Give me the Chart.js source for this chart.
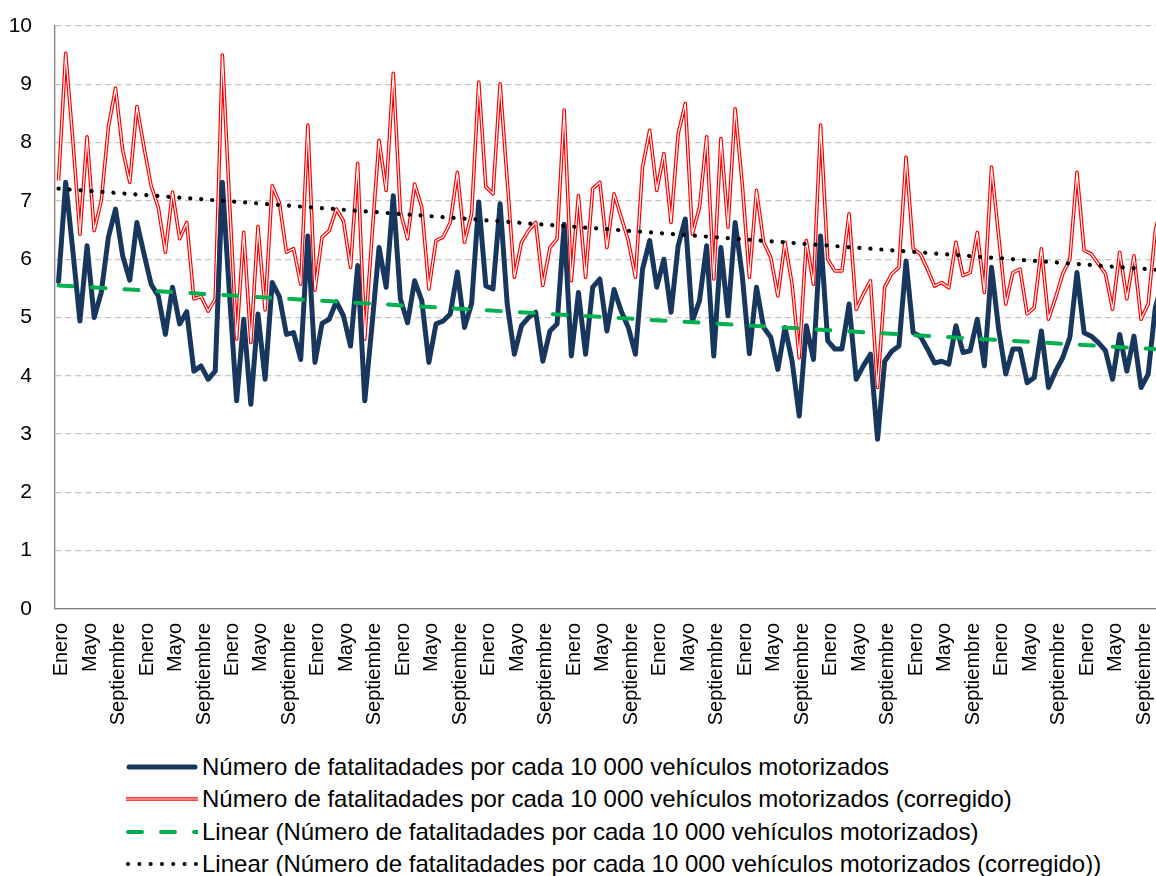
<!DOCTYPE html>
<html>
<head>
<meta charset="utf-8">
<script src="https://cdn.jsdelivr.net/npm/chart.js@4"></script>
<style>
  html, body { margin: 0; padding: 0; background: #fff; overflow: hidden; }
  #wrap { position: relative; width: 1156px; height: 876px; overflow: hidden; }
  #grafico { position: absolute; left: 0; top: 0; }
  #leyenda { position: absolute; left: 126px; top: 751px; font-family: "Liberation Sans", Arial, sans-serif; font-size: 24px; color: #000; }
  .fila { height: 32.3px; line-height: 32.3px; white-space: nowrap; display: flex; align-items: center; }
  .fila svg { width: 72px; height: 12px; margin-right: 4px; flex: none; }
</style>
</head>
<body>
<div id="wrap">
  <canvas id="grafico" width="1166" height="740"></canvas>
  <div id="leyenda"></div>
</div>
<script>
const meses = ["Enero", "Febrero", "Marzo", "Abril", "Mayo", "Junio", "Julio", "Agosto", "Septiembre", "Octubre", "Noviembre", "Diciembre"];
const años = 13;

// una etiqueta por mes, 13 años
const categorias = [];
for (let a = 0; a < años; a++) {
  meses.forEach((m) => categorias.push(m));
}

const fatalidades = [
  5.62, 7.32, 6.15, 4.94, 6.23, 5.00, 5.43, 6.38, 6.86, 6.06, 5.64, 6.63,
  6.09, 5.57, 5.37, 4.71, 5.52, 4.89, 5.10, 4.08, 4.17, 3.94, 4.08, 7.32,
  5.40, 3.57, 4.97, 3.51, 5.06, 3.94, 5.60, 5.36, 4.71, 4.74, 4.28, 6.40,
  4.23, 4.90, 4.97, 5.27, 5.03, 4.51, 5.89, 3.57, 4.85, 6.20, 5.52, 7.09,
  5.32, 4.91, 5.63, 5.29, 4.23, 4.89, 4.94, 5.06, 5.78, 4.83, 5.24, 6.98,
  5.54, 5.49, 6.95, 5.23, 4.37, 4.86, 5.00, 5.09, 4.25, 4.77, 4.89, 6.60,
  4.34, 5.43, 4.37, 5.52, 5.66, 4.77, 5.48, 5.11, 4.83, 4.37, 5.83, 6.32,
  5.52, 6.00, 5.09, 6.23, 6.69, 4.94, 5.29, 6.23, 4.34, 6.20, 5.03, 6.63,
  5.72, 4.38, 5.52, 4.83, 4.66, 4.11, 4.83, 4.25, 3.31, 4.86, 4.28, 6.40,
  4.60, 4.46, 4.46, 5.23, 3.94, 4.17, 4.37, 2.91, 4.25, 4.42, 4.51, 5.97,
  4.74, 4.68, 4.46, 4.22, 4.25, 4.20, 4.86, 4.40, 4.43, 4.97, 4.17, 5.86,
  4.80, 4.03, 4.46, 4.46, 3.88, 3.97, 4.77, 3.80, 4.08, 4.31, 4.66, 5.77,
  4.74, 4.68, 4.57, 4.43, 3.94, 4.71, 4.08, 4.68, 3.80, 4.03, 5.17, 5.60
];

const corregido = [
  7.35, 9.53, 8.05, 6.43, 8.10, 6.49, 7.00, 8.27, 8.93, 7.87, 7.32, 8.62,
  7.92, 7.26, 6.89, 6.12, 7.15, 6.35, 6.63, 5.32, 5.36, 5.11, 5.32, 9.50,
  7.00, 4.63, 6.46, 4.57, 6.56, 5.13, 7.26, 6.97, 6.12, 6.18, 5.57, 8.30,
  5.47, 6.38, 6.49, 6.86, 6.66, 5.86, 7.64, 4.63, 6.38, 8.04, 7.18, 9.19,
  6.81, 6.35, 7.29, 6.89, 5.49, 6.32, 6.38, 6.63, 7.49, 6.29, 6.78, 9.04,
  7.24, 7.12, 9.01, 7.35, 5.69, 6.29, 6.49, 6.63, 5.55, 6.20, 6.35, 8.56,
  5.63, 7.09, 5.69, 7.21, 7.32, 6.20, 7.12, 6.72, 6.32, 5.69, 7.58, 8.21,
  7.18, 7.81, 6.63, 8.15, 8.67, 6.43, 6.89, 8.10, 5.66, 8.07, 6.55, 8.58,
  7.29, 5.69, 7.18, 6.29, 6.03, 5.37, 6.29, 5.57, 4.31, 6.32, 5.57, 8.30,
  6.00, 5.80, 5.80, 6.78, 5.14, 5.40, 5.63, 3.80, 5.52, 5.75, 5.86, 7.75,
  6.18, 6.09, 5.83, 5.54, 5.60, 5.51, 6.29, 5.72, 5.77, 6.46, 5.43, 7.58,
  6.40, 5.23, 5.77, 5.83, 5.06, 5.17, 6.18, 4.97, 5.34, 5.75, 6.00, 7.49,
  6.15, 6.09, 5.92, 5.75, 5.14, 6.12, 5.32, 6.06, 4.97, 5.23, 6.49, 7.00
];

// líneas de tendencia: solo extremos
const tendenciaFatal = [5.55, 4.45];
const tendenciaCorr = [7.21, 5.81];

const extremos = (par) => categorias.map((_, i) => (i === 0 ? par[0] : i === categorias.length - 1 ? par[1] : null));

const ticksY = [0, 1, 2, 3, 4, 5, 6, 7, 8, 9, 10];

const fuente = '"Liberation Sans", Arial, sans-serif';
const azul = "#17375e";
const rojo = "#ff0000";
const verde = "#00b050";

const etiquetas = [
  "Número de fatalitadades por cada 10 000 vehículos motorizados",
  "Número de fatalitadades por cada 10 000 vehículos motorizados (corregido)",
  "Linear (Número de fatalitadades por cada 10 000 vehículos motorizados)",
  "Linear (Número de fatalitadades por cada 10 000 vehículos motorizados (corregido))"
];

const ctx = document.getElementById("grafico").getContext("2d");

const grafico = new Chart(ctx, {
  type: "line",
  data: {
    labels: categorias,
    datasets: [
      {
        label: etiquetas[1],
        data: corregido,
        borderColor: rojo,
        borderWidth: 3.6,
        borderJoinStyle: "round",
        pointRadius: 0,
        order: 5,
      },
      {
        label: "",
        data: corregido,
        borderColor: "#ffffff",
        borderWidth: 1.2,
        borderJoinStyle: "round",
        pointRadius: 0,
        order: 4,
      },
      {
        label: etiquetas[0],
        data: fatalidades,
        borderColor: azul,
        borderWidth: 5,
        borderJoinStyle: "round",
        borderCapStyle: "round",
        pointRadius: 0,
        order: 3,
      },
      {
        label: etiquetas[2],
        data: extremos(tendenciaFatal),
        borderColor: verde,
        borderWidth: 4,
        borderDash: [14, 19],
        borderCapStyle: "round",
        pointRadius: 0,
        spanGaps: true,
        order: 2,
      },
      {
        label: etiquetas[3],
        data: extremos(tendenciaCorr),
        borderColor: "#000000",
        borderWidth: 4.2,
        borderDash: [0.1, 10.9],
        borderCapStyle: "round",
        pointRadius: 0,
        spanGaps: true,
        order: 1,
      },
    ],
  },
  options: {
    responsive: false,
    animation: false,
    layout: { padding: { top: 26, left: 0, right: 0, bottom: 0 } },
    plugins: { legend: { display: false }, tooltip: { enabled: false } },
    scales: {
      x: {
        offset: true,
        grid: { display: false, drawTicks: false },
        border: { display: true, color: "#7f7f7f", width: 1.3 },
        ticks: {
          autoSkip: false,
          minRotation: 90,
          maxRotation: 90,
          padding: 14,
          labelOffset: 3,
          color: "#000",
          font: { family: fuente, size: 20 },
          callback: (v, i) => (i % 4 === 0 ? categorias[i] : ""),
        },
        afterFit: (s) => {
          s.height = 131;
          s.paddingLeft = 0;
          s.paddingRight = 0;
        },
      },
      y: {
        min: 0,
        max: 10,
        afterBuildTicks: (s) => {
          s.ticks = ticksY.map((v) => ({ value: v }));
        },
        grid: { color: "#c4c4c4", lineWidth: 1.3, drawTicks: false },
        border: { display: true, color: "#7f7f7f", width: 1.3, dash: [6, 4] },
        ticks: {
          padding: 23,
          color: "#000",
          font: { family: fuente, size: 21 },
        },
        afterFit: (s) => {
          s.width = 55;
          s.paddingTop = 0;
          s.paddingBottom = 0;
        },
      },
    },
  },
});

// leyenda en HTML, alineada a la izquierda como en el original
const muestras = [
  `<line x1="3" y1="6" x2="69" y2="6" stroke="${azul}" stroke-width="5" stroke-linecap="round"/>`,
  `<line x1="0" y1="6" x2="72" y2="6" stroke="${rojo}" stroke-width="3.6"/><line x1="0" y1="6" x2="72" y2="6" stroke="#fff" stroke-width="1.2"/>`,
  `<line x1="2" y1="6" x2="72" y2="6" stroke="${verde}" stroke-width="4" stroke-linecap="round" stroke-dasharray="14 19"/>`,
  `<line x1="2" y1="6" x2="72" y2="6" stroke="#000" stroke-width="4" stroke-linecap="round" stroke-dasharray="0.1 11.2"/>`,
];

document.getElementById("leyenda").innerHTML = etiquetas
  .map((t, i) => `<div class="fila"><svg viewBox="0 0 72 12">${muestras[i]}</svg><span>${t}</span></div>`)
  .join("");
</script>
</body>
</html>
